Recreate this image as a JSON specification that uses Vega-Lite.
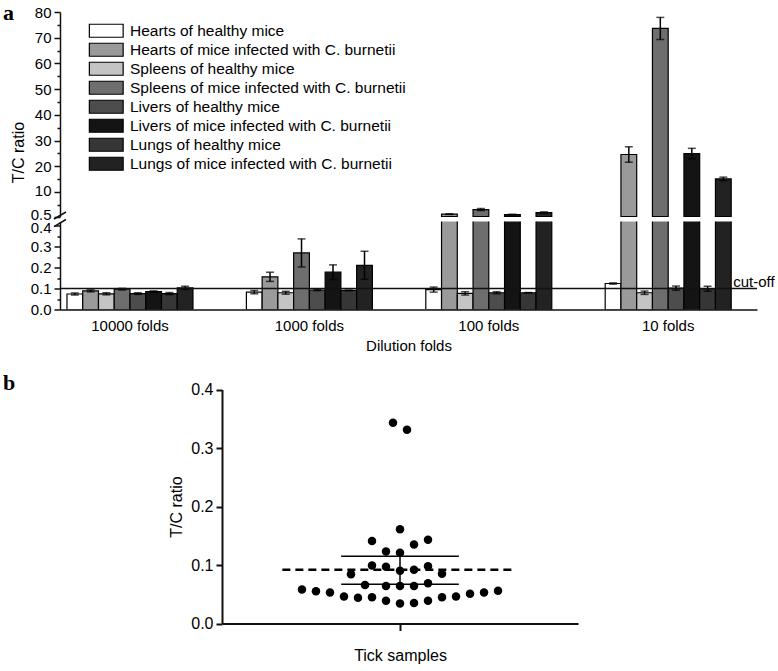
{
  "$schema": "https://vega.github.io/schema/vega-lite/v6.json",
  "background": "white",
  "padding": {"left": 3, "top": 2, "right": 0, "bottom": 0},
  "config": {
    "font": "Liberation Sans",
    "view": {"stroke": null},
    "title": {"font": "Liberation Serif", "fontSize": 22, "fontWeight": "bold", "anchor": "start", "frame": "group", "color": "black", "baseline": "alphabetic"},
    "axis": {"domainColor": "#111", "tickColor": "#111", "labelColor": "black", "titleColor": "black", "labelFont": "Liberation Sans", "titleFont": "Liberation Sans", "titleFontWeight": "normal", "grid": false}
  },
  "datasets": {
    "bars": [
      {"fold": "10000 folds", "tissue": "Hearts of healthy mice", "v": 0.074, "lo": 0.069, "hi": 0.079},
      {"fold": "10000 folds", "tissue": "Hearts of mice infected with C. burnetii", "v": 0.089, "lo": 0.084, "hi": 0.094},
      {"fold": "10000 folds", "tissue": "Spleens of healthy mice", "v": 0.075, "lo": 0.070, "hi": 0.080},
      {"fold": "10000 folds", "tissue": "Spleens of mice infected with C. burnetii", "v": 0.097, "lo": 0.093, "hi": 0.101},
      {"fold": "10000 folds", "tissue": "Livers of healthy mice", "v": 0.076, "lo": 0.072, "hi": 0.080},
      {"fold": "10000 folds", "tissue": "Livers of mice infected with C. burnetii", "v": 0.085, "lo": 0.081, "hi": 0.089},
      {"fold": "10000 folds", "tissue": "Lungs of healthy mice", "v": 0.076, "lo": 0.071, "hi": 0.081},
      {"fold": "10000 folds", "tissue": "Lungs of mice infected with C. burnetii", "v": 0.103, "lo": 0.096, "hi": 0.111},
      {"fold": "1000 folds", "tissue": "Hearts of healthy mice", "v": 0.083, "lo": 0.075, "hi": 0.091},
      {"fold": "1000 folds", "tissue": "Hearts of mice infected with C. burnetii", "v": 0.156, "lo": 0.134, "hi": 0.178},
      {"fold": "1000 folds", "tissue": "Spleens of healthy mice", "v": 0.080, "lo": 0.073, "hi": 0.087},
      {"fold": "1000 folds", "tissue": "Spleens of mice infected with C. burnetii", "v": 0.270, "lo": 0.203, "hi": 0.337},
      {"fold": "1000 folds", "tissue": "Livers of healthy mice", "v": 0.093, "lo": 0.090, "hi": 0.096},
      {"fold": "1000 folds", "tissue": "Livers of mice infected with C. burnetii", "v": 0.178, "lo": 0.143, "hi": 0.213},
      {"fold": "1000 folds", "tissue": "Lungs of healthy mice", "v": 0.091, "lo": 0.089, "hi": 0.093},
      {"fold": "1000 folds", "tissue": "Lungs of mice infected with C. burnetii", "v": 0.211, "lo": 0.144, "hi": 0.278},
      {"fold": "100 folds", "tissue": "Hearts of healthy mice", "v": 0.095, "lo": 0.083, "hi": 0.107},
      {"fold": "100 folds", "tissue": "Hearts of mice infected with C. burnetii", "v": 1.4, "lo": 1.3, "hi": 1.5},
      {"fold": "100 folds", "tissue": "Spleens of healthy mice", "v": 0.077, "lo": 0.069, "hi": 0.085},
      {"fold": "100 folds", "tissue": "Spleens of mice infected with C. burnetii", "v": 3.2, "lo": 2.8, "hi": 3.6},
      {"fold": "100 folds", "tissue": "Livers of healthy mice", "v": 0.080, "lo": 0.075, "hi": 0.085},
      {"fold": "100 folds", "tissue": "Livers of mice infected with C. burnetii", "v": 1.28, "lo": 1.18, "hi": 1.38},
      {"fold": "100 folds", "tissue": "Lungs of healthy mice", "v": 0.080, "lo": 0.079, "hi": 0.081},
      {"fold": "100 folds", "tissue": "Lungs of mice infected with C. burnetii", "v": 2.0, "lo": 1.7, "hi": 2.3},
      {"fold": "10 folds", "tissue": "Hearts of healthy mice", "v": 0.124, "lo": 0.121, "hi": 0.127},
      {"fold": "10 folds", "tissue": "Hearts of mice infected with C. burnetii", "v": 24.6, "lo": 21.6, "hi": 27.6},
      {"fold": "10 folds", "tissue": "Spleens of healthy mice", "v": 0.080, "lo": 0.072, "hi": 0.088},
      {"fold": "10 folds", "tissue": "Spleens of mice infected with C. burnetii", "v": 73.6, "lo": 69.3, "hi": 77.9},
      {"fold": "10 folds", "tissue": "Livers of healthy mice", "v": 0.102, "lo": 0.092, "hi": 0.112},
      {"fold": "10 folds", "tissue": "Livers of mice infected with C. burnetii", "v": 25.0, "lo": 23.0, "hi": 27.0},
      {"fold": "10 folds", "tissue": "Lungs of healthy mice", "v": 0.099, "lo": 0.087, "hi": 0.111},
      {"fold": "10 folds", "tissue": "Lungs of mice infected with C. burnetii", "v": 15.1, "lo": 14.4, "hi": 15.8}
    ],
    "points": [
      {"slot": -7, "ratio": 0.058}, {"slot": -6, "ratio": 0.055}, {"slot": -5, "ratio": 0.053},
      {"slot": -4, "ratio": 0.046}, {"slot": -3, "ratio": 0.044}, {"slot": -2, "ratio": 0.045},
      {"slot": -1, "ratio": 0.039}, {"slot": 0, "ratio": 0.034}, {"slot": 1, "ratio": 0.035},
      {"slot": 2, "ratio": 0.039}, {"slot": 3, "ratio": 0.045}, {"slot": 4, "ratio": 0.046},
      {"slot": 5, "ratio": 0.051}, {"slot": 6, "ratio": 0.053}, {"slot": 7, "ratio": 0.056},
      {"slot": -2.5, "ratio": 0.066}, {"slot": -1, "ratio": 0.064}, {"slot": 0, "ratio": 0.064},
      {"slot": 1, "ratio": 0.064}, {"slot": 2, "ratio": 0.069},
      {"slot": -3.5, "ratio": 0.084}, {"slot": -2, "ratio": 0.099}, {"slot": -1, "ratio": 0.097},
      {"slot": 0, "ratio": 0.090}, {"slot": 1, "ratio": 0.092}, {"slot": 2, "ratio": 0.098},
      {"slot": 3, "ratio": 0.085},
      {"slot": -1, "ratio": 0.123}, {"slot": 0, "ratio": 0.121}, {"slot": 1, "ratio": 0.135},
      {"slot": -2, "ratio": 0.141}, {"slot": 2, "ratio": 0.143}, {"slot": 0, "ratio": 0.161},
      {"slot": -0.5, "ratio": 0.343}, {"slot": 0.5, "ratio": 0.331}
    ],
    "stats": [
      {"style": "solid", "x1": -4.2, "x2": 4.2, "y1": 0.115, "y2": 0.115},
      {"style": "solid", "x1": -4.2, "x2": 4.2, "y1": 0.067, "y2": 0.067},
      {"style": "solid", "x1": 0, "x2": 0, "y1": 0.067, "y2": 0.115},
      {"style": "dashed", "x1": -8.4, "x2": 8.1, "y1": 0.092, "y2": 0.092}
    ]
  },
  "bounds": "flush",
  "spacing": 4.5,
  "vconcat": [
    {
      "width": 697,
      "height": 204.5,
      "title": {"text": "a", "dx": -57, "offset": -20},
      "resolve": {"axis": {"y": "independent"}},
      "layer": [
        {
          "data": {"name": "bars"},
          "transform": [{"filter": "datum.v > 0.5"}],
          "mark": {"type": "bar", "stroke": "black", "strokeWidth": 1.2},
          "encoding": {
            "x": {"field": "fold", "type": "nominal", "axis": null,
              "scale": {"domain": ["10000 folds", "1000 folds", "100 folds", "10 folds"], "paddingInner": 0.2977, "paddingOuter": 0.0914, "align": 0.213}},
            "xOffset": {"field": "tissue", "type": "nominal",
              "scale": {"domain": ["Hearts of healthy mice", "Hearts of mice infected with C. burnetii", "Spleens of healthy mice", "Spleens of mice infected with C. burnetii", "Livers of healthy mice", "Livers of mice infected with C. burnetii", "Lungs of healthy mice", "Lungs of mice infected with C. burnetii"], "paddingInner": 0, "paddingOuter": 0}},
            "y": {"field": "v", "type": "quantitative", "title": "T/C ratio",
              "scale": {"domain": [0.5, 80], "zero": false, "nice": false},
              "axis": {"orient": "left", "values": [0.5, 10],
                "labelExpr": "datum.value >= 1 ? format(datum.value, 'd') : format(datum.value, '.1f')",
                "labelFontSize": 15, "labelPadding": 3, "labelOffset": -2, "tickSize": 6,
                "titleFontSize": 16, "titlePadding": 4, "titleY": 140, "domainWidth": 1.5, "tickWidth": 1.5}},
            "y2": {"datum": 0.5},
            "color": {"field": "tissue", "type": "nominal",
              "scale": {"domain": ["Hearts of healthy mice", "Hearts of mice infected with C. burnetii", "Spleens of healthy mice", "Spleens of mice infected with C. burnetii", "Livers of healthy mice", "Livers of mice infected with C. burnetii", "Lungs of healthy mice", "Lungs of mice infected with C. burnetii"],
                "range": ["#ffffff", "#9a9a9a", "#c4c4c4", "#6e6e6e", "#4d4d4d", "#141414", "#363636", "#222222"]},
              "legend": {"orient": "none", "legendX": 38.5, "legendY": 11, "title": null,
                "symbolType": "M-2.6,-1H2.6V1H-2.6Z", "symbolSize": 169, "symbolStrokeColor": "black", "symbolStrokeWidth": 1.2, "symbolOpacity": 1,
                "labelFont": "Liberation Sans", "labelFontSize": 15.5, "labelColor": "black", "labelOffset": 16, "rowPadding": 0, "labelLimit": 500}}
          }
        },
        {
          "data": {"name": "bars"},
          "transform": [{"filter": "datum.v > 0.5"}],
          "mark": {"type": "rule", "color": "black", "strokeWidth": 1.5},
          "encoding": {
            "x": {"field": "fold", "type": "nominal", "axis": null},
            "xOffset": {"field": "tissue", "type": "nominal"},
            "y": {"field": "lo", "type": "quantitative", "title": null,
              "axis": {"orient": "left", "values": [20, 30], "format": "d", "domain": false, "labelFontSize": 15, "labelPadding": 3, "tickSize": 6, "tickWidth": 1.5}},
            "y2": {"field": "hi"}
          }
        },
        {
          "data": {"name": "bars"},
          "transform": [{"filter": "datum.v > 0.5"}],
          "mark": {"type": "tick", "color": "black", "size": 8, "thickness": 1.5},
          "encoding": {
            "x": {"field": "fold", "type": "nominal", "axis": null},
            "xOffset": {"field": "tissue", "type": "nominal"},
            "y": {"field": "lo", "type": "quantitative", "title": null,
              "axis": {"orient": "left", "values": [40, 50], "format": "d", "domain": false, "labelFontSize": 15, "labelPadding": 3, "tickSize": 6, "tickWidth": 1.5}}
          }
        },
        {
          "data": {"name": "bars"},
          "transform": [{"filter": "datum.v > 0.5"}],
          "mark": {"type": "tick", "color": "black", "size": 8, "thickness": 1.5},
          "encoding": {
            "x": {"field": "fold", "type": "nominal", "axis": null},
            "xOffset": {"field": "tissue", "type": "nominal"},
            "y": {"field": "hi", "type": "quantitative", "title": null,
              "axis": {"orient": "left", "values": [60, 70], "format": "d", "domain": false, "labelFontSize": 15, "labelPadding": 3, "tickSize": 6, "tickWidth": 1.5}}
          }
        },
        {
          "data": {"values": [{"s1": -0.47, "s2": 2.25}]},
          "mark": {"type": "rule", "color": "#111", "strokeWidth": 1.5},
          "encoding": {
            "x": {"value": -6},
            "x2": {"value": 6},
            "y": {"field": "s1", "type": "quantitative", "title": null,
              "axis": {"orient": "left", "values": [80], "format": "d", "domain": false, "labelFontSize": 15, "labelPadding": 3, "tickSize": 6, "tickWidth": 1.5}},
            "y2": {"field": "s2"}
          }
        },
        {
          "data": {"name": "bars"},
          "transform": [{"filter": "datum.v > 0.5"}],
          "mark": {"type": "point", "opacity": 0},
          "encoding": {
            "x": {"field": "fold", "type": "nominal", "axis": null},
            "y": {"field": "v", "type": "quantitative", "title": null,
              "axis": {"orient": "left", "values": [5, 15, 25, 35, 45, 55, 65, 75], "labels": false, "domain": false, "tickSize": 3, "tickWidth": 1.5}}
          }
        }
      ]
    },
    {
      "width": 697,
      "height": 88,
      "resolve": {"axis": {"y": "independent"}},
      "layer": [
        {
          "data": {"name": "bars"},
          "mark": {"type": "bar", "stroke": "black", "strokeWidth": 1.2, "clip": true},
          "encoding": {
            "x": {"field": "fold", "type": "nominal", "title": "Dilution folds",
              "scale": {"domain": ["10000 folds", "1000 folds", "100 folds", "10 folds"], "paddingInner": 0.2977, "paddingOuter": 0.0914, "align": 0.213},
              "axis": {"labelAngle": 0, "ticks": false, "labelFontSize": 15, "labelPadding": 9, "titleFontSize": 15, "titlePadding": 5, "domainWidth": 1.5}},
            "xOffset": {"field": "tissue", "type": "nominal",
              "scale": {"domain": ["Hearts of healthy mice", "Hearts of mice infected with C. burnetii", "Spleens of healthy mice", "Spleens of mice infected with C. burnetii", "Livers of healthy mice", "Livers of mice infected with C. burnetii", "Lungs of healthy mice", "Lungs of mice infected with C. burnetii"], "paddingInner": 0, "paddingOuter": 0}},
            "y": {"field": "v", "type": "quantitative", "title": null,
              "scale": {"domain": [0, 0.42], "nice": false},
              "axis": {"orient": "left", "values": [0, 0.1], "format": ".1f", "labelFontSize": 15, "labelPadding": 3, "tickSize": 6, "domainWidth": 1.5, "tickWidth": 1.5}},
            "color": {"field": "tissue", "type": "nominal", "legend": null,
              "scale": {"domain": ["Hearts of healthy mice", "Hearts of mice infected with C. burnetii", "Spleens of healthy mice", "Spleens of mice infected with C. burnetii", "Livers of healthy mice", "Livers of mice infected with C. burnetii", "Lungs of healthy mice", "Lungs of mice infected with C. burnetii"],
                "range": ["#ffffff", "#9a9a9a", "#c4c4c4", "#6e6e6e", "#4d4d4d", "#141414", "#363636", "#222222"]}}
          }
        },
        {
          "data": {"name": "bars"},
          "transform": [{"filter": "datum.v < 0.5"}],
          "mark": {"type": "rule", "color": "black", "strokeWidth": 1.5},
          "encoding": {
            "x": {"field": "fold", "type": "nominal", "title": "Dilution folds"},
            "xOffset": {"field": "tissue", "type": "nominal"},
            "y": {"field": "lo", "type": "quantitative", "title": null,
              "axis": {"orient": "left", "values": [0.2, 0.3], "format": ".1f", "domain": false, "labelFontSize": 15, "labelPadding": 3, "tickSize": 6, "tickWidth": 1.5}},
            "y2": {"field": "hi"}
          }
        },
        {
          "data": {"name": "bars"},
          "transform": [{"filter": "datum.v < 0.5"}, {"fold": ["lo", "hi"], "as": ["end", "cap"]}],
          "mark": {"type": "tick", "color": "black", "size": 8, "thickness": 1.5},
          "encoding": {
            "x": {"field": "fold", "type": "nominal", "title": "Dilution folds"},
            "xOffset": {"field": "tissue", "type": "nominal"},
            "y": {"field": "cap", "type": "quantitative", "title": null,
              "axis": {"orient": "left", "values": [0.4], "format": ".1f", "domain": false, "labelFontSize": 15, "labelPadding": 3, "labelOffset": 1.5, "tickSize": 6, "tickWidth": 1.5}}
          }
        },
        {
          "data": {"values": [{"cut": 0.1}]},
          "mark": {"type": "rule", "color": "#111", "strokeWidth": 1.5},
          "encoding": {"y": {"field": "cut", "type": "quantitative", "title": null,
            "axis": {"orient": "left", "values": [0.05, 0.15, 0.25, 0.35], "labels": false, "domain": false, "tickSize": 3, "tickWidth": 1.5}}}
        },
        {
          "data": {"values": [{"cut": 0.1, "label": "cut-off", "fold": "10 folds"}]},
          "mark": {"type": "text", "align": "left", "baseline": "alphabetic", "dx": 2, "dy": -2, "fontSize": 15, "font": "Liberation Sans", "color": "black"},
          "encoding": {
            "x": {"field": "fold", "type": "nominal", "bandPosition": 1, "title": "Dilution folds"},
            "y": {"field": "cut", "type": "quantitative", "title": null, "axis": null},
            "text": {"field": "label"}
          }
        },
        {
          "data": {"values": [{"s1": 0.396, "s2": 0.4295}]},
          "mark": {"type": "rule", "color": "#111", "strokeWidth": 1.5},
          "encoding": {
            "x": {"value": -6},
            "x2": {"value": 6},
            "y": {"field": "s1", "type": "quantitative", "title": null, "axis": null},
            "y2": {"field": "s2"}
          }
        }
      ]
    },
    {
      "width": 518,
      "height": 309.5,
      "title": {"text": "b", "dx": -57, "offset": -80.5},
      "layer": [
        {
          "data": {"name": "points"},
          "mark": {"type": "circle", "size": 72, "color": "black", "opacity": 1},
          "encoding": {
            "x": {"field": "slot", "type": "quantitative", "title": "Tick samples",
              "scale": {"domain": [-12.71, 12.71], "range": [162, 518], "nice": false, "zero": false},
              "axis": {"values": [0], "labels": false, "tickSize": 7, "tickWidth": 2, "domainWidth": 2, "titleFontSize": 16, "titlePadding": 16}},
            "y": {"field": "ratio", "type": "quantitative", "title": "T/C ratio",
              "scale": {"domain": [0, 0.4], "range": [309.5, 75.5], "nice": false, "zero": true},
              "axis": {"values": [0, 0.1, 0.2, 0.3, 0.4], "format": ".1f", "offset": -162, "tickSize": 6, "tickWidth": 2, "domainWidth": 2, "labelFontSize": 16, "labelPadding": 3, "titleFontSize": 16, "titlePadding": 6}}
          }
        },
        {
          "data": {"name": "stats"},
          "transform": [{"filter": "datum.style == 'solid'"}],
          "mark": {"type": "rule", "color": "black", "strokeWidth": 1.5},
          "encoding": {
            "x": {"field": "x1", "type": "quantitative", "title": "Tick samples"},
            "x2": {"field": "x2"},
            "y": {"field": "y1", "type": "quantitative", "title": "T/C ratio"},
            "y2": {"field": "y2"}
          }
        },
        {
          "data": {"name": "stats"},
          "transform": [{"filter": "datum.style == 'dashed'"}],
          "mark": {"type": "rule", "color": "black", "strokeWidth": 2.5, "strokeDash": [8, 5]},
          "encoding": {
            "x": {"field": "x1", "type": "quantitative", "title": "Tick samples"},
            "x2": {"field": "x2"},
            "y": {"field": "y1", "type": "quantitative", "title": "T/C ratio"},
            "y2": {"field": "y2"}
          }
        }
      ]
    }
  ]
}
